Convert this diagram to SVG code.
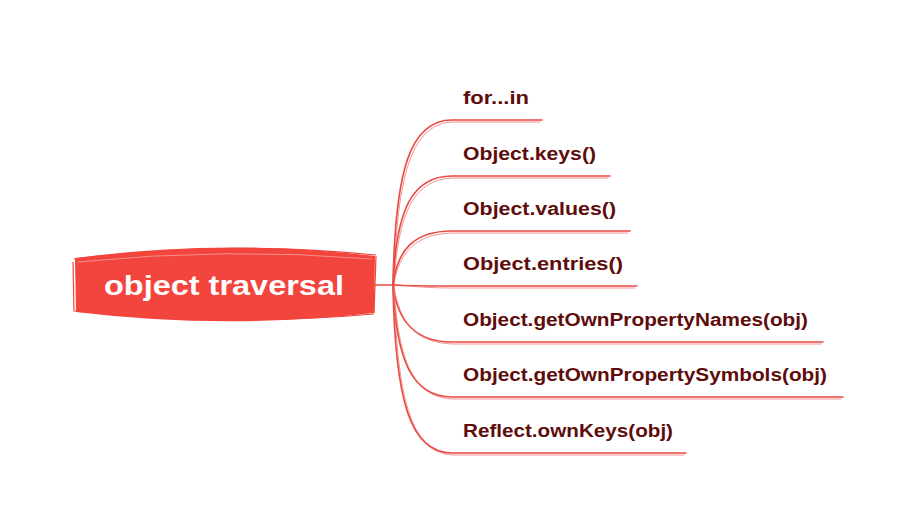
<svg xmlns="http://www.w3.org/2000/svg" width="916" height="528" viewBox="0 0 916 528">
<style>
.lbl{font-family:"Liberation Sans","DejaVu Sans",sans-serif;font-weight:bold;font-size:18px;fill:#5e0c0c}
.root{font-family:"Liberation Sans","DejaVu Sans",sans-serif;font-weight:bold;font-size:27px;fill:#ffffff}
.c{fill:none;stroke:#e84a43;stroke-width:1.6;stroke-linecap:round}
.c2{fill:none;stroke:#ee6a63;stroke-width:0.9;stroke-linecap:round;opacity:0.8}
</style>
<rect width="916" height="528" fill="#ffffff"/>
<g id="connectors">
<path class="c" d="M375,285 L393,285"/>
<path class="c" d="M393,285 C395,170 410,120 452,120 L542,120"/>
<path class="c2" d="M394,284 C397,172 412,122 455,122 L540,122"/>
<path class="c" d="M393,285 C396,210 412,176 452,176 L610,176"/>
<path class="c2" d="M394,284 C398,212 414,178 455,178 L608,178"/>
<path class="c" d="M393,285 C397,250 414,231 452,231 L630,231"/>
<path class="c2" d="M394,284 C399,252 416,233 455,233 L628,233"/>
<path class="c" d="M393,285 C410,286 430,286 452,286 L637,286"/>
<path class="c2" d="M394,284 C412,287 432,288 455,288 L635,288"/>
<path class="c" d="M393,285 C397,320 414,342 452,342 L823,342"/>
<path class="c2" d="M394,286 C399,322 416,344 455,344 L821,344"/>
<path class="c" d="M393,285 C396,360 412,397 452,397 L843,397"/>
<path class="c2" d="M394,286 C398,362 414,399 455,399 L841,399"/>
<path class="c" d="M393,285 C395,400 410,453 452,453 L686,453"/>
<path class="c2" d="M394,286 C397,402 412,455 455,455 L684,455"/>
</g>
<g id="root">
<path d="M75,258 Q225,238 375,256 L374,313 Q225,330 76,312 Z" fill="#f2453d"/>
<path d="M74,259 Q225,240 376,255 M73,262 L74,311 Q225,327 374,314 M376,256 L374,313" fill="none" stroke="#f2453d" stroke-width="1.2"/>
<path d="M78,262 Q225,247 372,259" fill="none" stroke="#ffffff" stroke-width="0.8" opacity="0.5"/>
<text class="root" x="224" y="295" text-anchor="middle" textLength="240" lengthAdjust="spacingAndGlyphs">object traversal</text>
</g>
<g id="n1"><text class="lbl" x="463" y="104" textLength="66" lengthAdjust="spacingAndGlyphs">for...in</text></g>
<g id="n2"><text class="lbl" x="463" y="160" textLength="133" lengthAdjust="spacingAndGlyphs">Object.keys()</text></g>
<g id="n3"><text class="lbl" x="463" y="215" textLength="153" lengthAdjust="spacingAndGlyphs">Object.values()</text></g>
<g id="n4"><text class="lbl" x="463" y="270" textLength="160" lengthAdjust="spacingAndGlyphs">Object.entries()</text></g>
<g id="n5"><text class="lbl" x="463" y="326" textLength="345" lengthAdjust="spacingAndGlyphs">Object.getOwnPropertyNames(obj)</text></g>
<g id="n6"><text class="lbl" x="463" y="381" textLength="364" lengthAdjust="spacingAndGlyphs">Object.getOwnPropertySymbols(obj)</text></g>
<g id="n7"><text class="lbl" x="463" y="437" textLength="210" lengthAdjust="spacingAndGlyphs">Reflect.ownKeys(obj)</text></g>
</svg>
